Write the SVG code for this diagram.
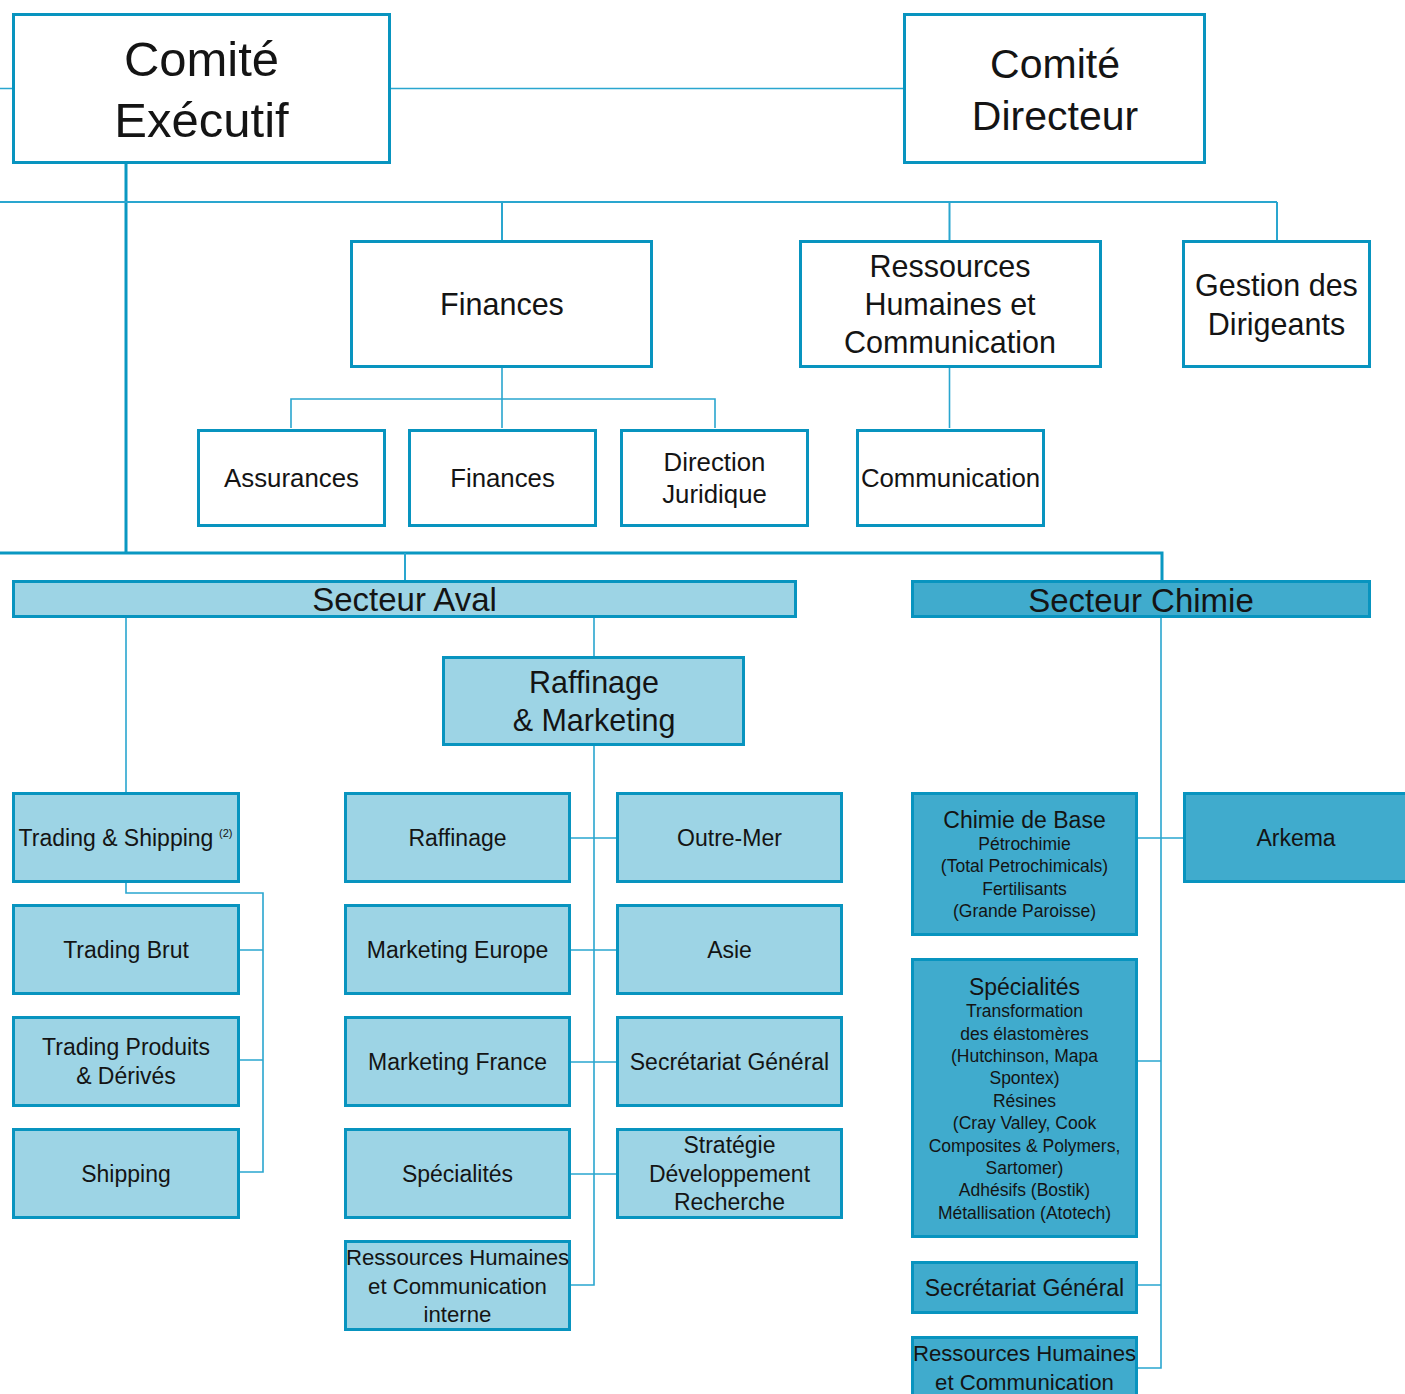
<svg xmlns="http://www.w3.org/2000/svg" width="1405" height="1394" viewBox="0 0 1405 1394">
<style>
.box{fill:#ffffff;stroke:#0894bf;stroke-width:3}
.lt{fill:#9dd4e5;stroke:#0894bf;stroke-width:3}
.dk{fill:#40abcd;stroke:#0894bf;stroke-width:3}
.c{fill:none;stroke:#2aa6cf;stroke-width:1.6}
.ct{fill:none;stroke:#0a98c2;stroke-width:3}
.c2{fill:none;stroke:#2aa6cf;stroke-width:2}
text{font-family:"Liberation Sans",Arial,Helvetica,sans-serif;fill:#141414;text-anchor:middle}
.t49{font-size:49px}
.t41{font-size:41px}
.t33{font-size:33px}
.t30{font-size:30.5px}
.t26{font-size:25.8px}
.t23{font-size:23px}
.t22{font-size:22.2px}
.t17{font-size:17.5px}
.sup{font-size:11px;text-anchor:start}
</style>
<g id="connectors">
  <path class="c" d="M0 88.5H12 M391 88.5H903"/>
  <path class="ct" d="M126 164V553"/>
  <path class="c2" d="M0 202H1277 M502 202V240 M949.5 202V240 M1277 202V240"/>
  <path class="c" d="M502 368V428 M291 428V399H715V428 M949.5 368V428"/>
  <path class="ct" d="M0 553H1162V580"/>
  <path class="c2" d="M405 553V580"/>
  <path class="c" d="M126 618V792 M594 618V656"/>
  <path class="c" d="M594 746V1285H571 M571 838H616 M571 950H616 M571 1062H616 M571 1174H616"/>
  <path class="c" d="M126 882V893H263V1172H240 M240 950H263 M240 1060H263"/>
  <path class="c" d="M1161 618V1368H1138 M1138 838H1183 M1138 1061H1161 M1138 1285H1161"/>
</g>
<g id="comite-executif">
  <rect class="box" x="13.5" y="14.5" width="376" height="148"/>
  <text class="t49" x="201.5" y="76">Comité</text>
  <text class="t49" x="201.5" y="137">Exécutif</text>
</g>
<g id="comite-directeur">
  <rect class="box" x="904.5" y="14.5" width="300" height="148"/>
  <text class="t41" x="1055" y="78">Comité</text>
  <text class="t41" x="1055" y="130">Directeur</text>
</g>
<g id="finances-top">
  <rect class="box" x="351.5" y="241.5" width="300" height="125"/>
  <text class="t30" x="502" y="315">Finances</text>
</g>
<g id="rh-communication">
  <rect class="box" x="800.5" y="241.5" width="300" height="125"/>
  <text class="t30" x="950" y="277">Ressources</text>
  <text class="t30" x="950" y="315">Humaines et</text>
  <text class="t30" x="950" y="353">Communication</text>
</g>
<g id="gestion-dirigeants">
  <rect class="box" x="1183.5" y="241.5" width="186" height="125"/>
  <text class="t30" x="1276.5" y="296">Gestion des</text>
  <text class="t30" x="1276.5" y="335">Dirigeants</text>
</g>
<g id="assurances">
  <rect class="box" x="198.5" y="430.5" width="186" height="95"/>
  <text class="t26" x="291.5" y="487">Assurances</text>
</g>
<g id="finances-sub">
  <rect class="box" x="409.5" y="430.5" width="186" height="95"/>
  <text class="t26" x="502.5" y="487">Finances</text>
</g>
<g id="direction-juridique">
  <rect class="box" x="621.5" y="430.5" width="186" height="95"/>
  <text class="t26" x="714.5" y="471">Direction</text>
  <text class="t26" x="714.5" y="503">Juridique</text>
</g>
<g id="communication">
  <rect class="box" x="857.5" y="430.5" width="186" height="95"/>
  <text class="t26" x="950.5" y="487">Communication</text>
</g>
<g id="secteur-aval">
  <rect class="lt" x="13.5" y="581.5" width="782" height="35"/>
  <text class="t33" x="404.5" y="611">Secteur Aval</text>
</g>
<g id="secteur-chimie">
  <rect class="dk" x="912.5" y="581.5" width="457" height="35"/>
  <text class="t33" x="1141" y="612">Secteur Chimie</text>
</g>
<g id="raffinage-marketing">
  <rect class="lt" x="443.5" y="657.5" width="300" height="87"/>
  <text class="t30" x="594" y="693">Raffinage</text>
  <text class="t30" x="594" y="731">&amp; Marketing</text>
</g>
<g id="trading-shipping">
  <rect class="lt" x="13.5" y="793.5" width="225" height="88"/>
  <text class="t23" x="116" y="846">Trading &amp; Shipping</text>
  <text class="sup" x="219" y="837">(2)</text>
</g>
<g id="trading-brut">
  <rect class="lt" x="13.5" y="905.5" width="225" height="88"/>
  <text class="t23" x="126" y="958">Trading Brut</text>
</g>
<g id="trading-produits">
  <rect class="lt" x="13.5" y="1017.5" width="225" height="88"/>
  <text class="t23" x="126" y="1055">Trading Produits</text>
  <text class="t23" x="126" y="1084">&amp; Dérivés</text>
</g>
<g id="shipping">
  <rect class="lt" x="13.5" y="1129.5" width="225" height="88"/>
  <text class="t23" x="126" y="1182">Shipping</text>
</g>
<g id="raffinage">
  <rect class="lt" x="345.5" y="793.5" width="224" height="88"/>
  <text class="t23" x="457.5" y="846">Raffinage</text>
</g>
<g id="marketing-europe">
  <rect class="lt" x="345.5" y="905.5" width="224" height="88"/>
  <text class="t23" x="457.5" y="958">Marketing Europe</text>
</g>
<g id="marketing-france">
  <rect class="lt" x="345.5" y="1017.5" width="224" height="88"/>
  <text class="t23" x="457.5" y="1070">Marketing France</text>
</g>
<g id="specialites-aval">
  <rect class="lt" x="345.5" y="1129.5" width="224" height="88"/>
  <text class="t23" x="457.5" y="1182">Spécialités</text>
</g>
<g id="rh-interne">
  <rect class="lt" x="345.5" y="1241.5" width="224" height="88"/>
  <text class="t22" x="457.5" y="1265">Ressources Humaines</text>
  <text class="t22" x="457.5" y="1294">et Communication</text>
  <text class="t22" x="457.5" y="1322">interne</text>
</g>
<g id="outre-mer">
  <rect class="lt" x="617.5" y="793.5" width="224" height="88"/>
  <text class="t23" x="729.5" y="846">Outre-Mer</text>
</g>
<g id="asie">
  <rect class="lt" x="617.5" y="905.5" width="224" height="88"/>
  <text class="t23" x="729.5" y="958">Asie</text>
</g>
<g id="secretariat-aval">
  <rect class="lt" x="617.5" y="1017.5" width="224" height="88"/>
  <text class="t23" x="729.5" y="1070">Secrétariat Général</text>
</g>
<g id="strategie">
  <rect class="lt" x="617.5" y="1129.5" width="224" height="88"/>
  <text class="t23" x="729.5" y="1153">Stratégie</text>
  <text class="t23" x="729.5" y="1182">Développement</text>
  <text class="t23" x="729.5" y="1210">Recherche</text>
</g>
<g id="chimie-base">
  <rect class="dk" x="912.5" y="793.5" width="224" height="141"/>
  <text class="t23" x="1024.5" y="828">Chimie de Base</text>
  <text class="t17" x="1024.5" y="850">Pétrochimie</text>
  <text class="t17" x="1024.5" y="872">(Total Petrochimicals)</text>
  <text class="t17" x="1024.5" y="895">Fertilisants</text>
  <text class="t17" x="1024.5" y="917">(Grande Paroisse)</text>
</g>
<g id="arkema">
  <rect class="dk" x="1184.5" y="793.5" width="224" height="88"/>
  <text class="t23" x="1296" y="846">Arkema</text>
</g>
<g id="specialites-chimie">
  <rect class="dk" x="912.5" y="959.5" width="224" height="277"/>
  <text class="t23" x="1024.5" y="995">Spécialités</text>
  <text class="t17" x="1024.5" y="1017">Transformation</text>
  <text class="t17" x="1024.5" y="1040">des élastomères</text>
  <text class="t17" x="1024.5" y="1062">(Hutchinson, Mapa</text>
  <text class="t17" x="1024.5" y="1084">Spontex)</text>
  <text class="t17" x="1024.5" y="1107">Résines</text>
  <text class="t17" x="1024.5" y="1129">(Cray Valley, Cook</text>
  <text class="t17" x="1024.5" y="1152">Composites &amp; Polymers,</text>
  <text class="t17" x="1024.5" y="1174">Sartomer)</text>
  <text class="t17" x="1024.5" y="1196">Adhésifs (Bostik)</text>
  <text class="t17" x="1024.5" y="1219">Métallisation (Atotech)</text>
</g>
<g id="secretariat-chimie">
  <rect class="dk" x="912.5" y="1262.5" width="224" height="50"/>
  <text class="t23" x="1024.5" y="1296">Secrétariat Général</text>
</g>
<g id="rh-chimie">
  <rect class="dk" x="912.5" y="1337.5" width="224" height="88"/>
  <text class="t22" x="1024.5" y="1361">Ressources Humaines</text>
  <text class="t22" x="1024.5" y="1390">et Communication</text>
</g>
</svg>
